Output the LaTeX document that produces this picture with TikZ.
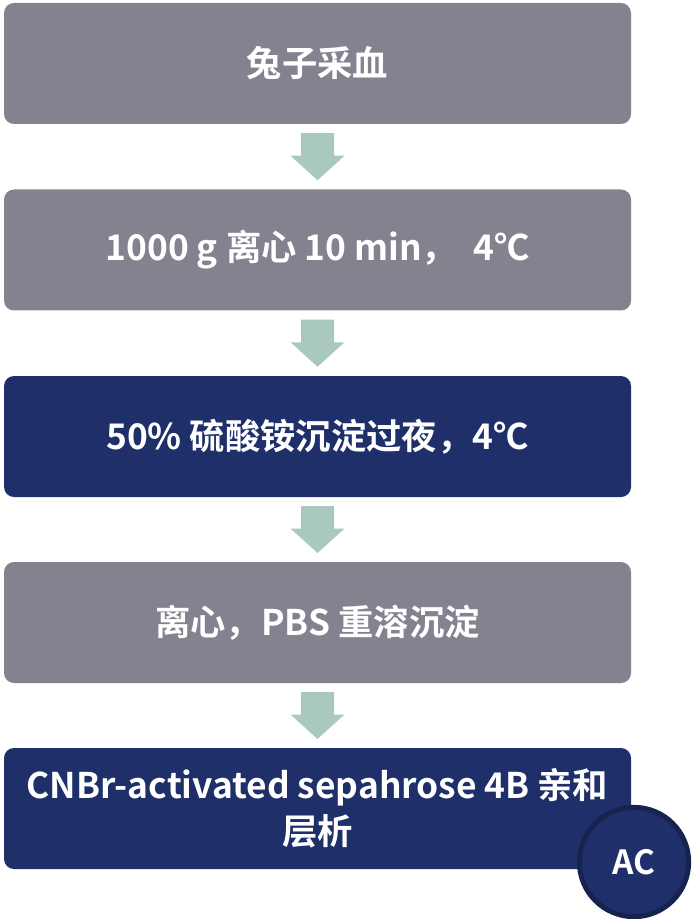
\documentclass[tikz,border=0pt]{standalone}
\usepackage{fontspec}
\setmainfont{Noto Sans CJK SC}[BoldFont={Noto Sans CJK SC Bold}]
\usetikzlibrary{calc}
\definecolor{graybox}{HTML}{858290}
\definecolor{navybox}{HTML}{1E2F6A}
\definecolor{navyring}{HTML}{17224F}
\definecolor{arrowc}{HTML}{A9C9BC}
\begin{document}
\begin{tikzpicture}[x=0.75pt,y=-0.75pt,
  stepbox/.style={rectangle,rounded corners=7.5pt,minimum width=470.25pt,minimum height=90.75pt,
    text=white,font=\fontsize{26.5}{34.5}\selectfont\bfseries,align=center,inner sep=0pt},
  graystep/.style={stepbox,fill=graybox},
  navystep/.style={stepbox,fill=navybox},
  badge/.style={circle,fill=navybox,draw=navyring,line width=3.75pt,minimum size=82pt,inner sep=0pt,
    text=white,font=\fontsize{25}{28}\selectfont\bfseries},
  flow/.style={fill=arrowc}]
\useasboundingbox (0,0) rectangle (692,919);
\node[graystep] (b1) at (317.5,63.5) {兔子采血};
\node[graystep] (b2) at (317.5,250) {1000 g 离心 10 min，\ \ 4℃};
\node[navystep] (b3) at (317.5,436.5) {50\% 硫酸铵沉淀过夜，4℃};
\node[graystep] (b4) at (317.5,622.5) {离心，PBS 重溶沉淀};
\node[navystep] (b5) at (317.5,808.5) {CNBr-activated sepahrose 4B 亲和\\层析};
\node[badge] (ac) at (634,862) {AC};
\foreach \a/\b in {b1/b2,b2/b3,b3/b4,b4/b5}{
  \coordinate (m) at ($(\a.south)!0.5!(\b.north)$);
  \fill[flow] ($(m)+(-16.5,-23.5)$) -- ($(m)+(16.5,-23.5)$) -- ($(m)+(16.5,-1)$) -- ($(m)+(27,-1)$)
    -- ($(m)+(0,23.5)$) -- ($(m)+(-27,-1)$) -- ($(m)+(-16.5,-1)$) -- cycle;
}
\end{tikzpicture}
\end{document}
